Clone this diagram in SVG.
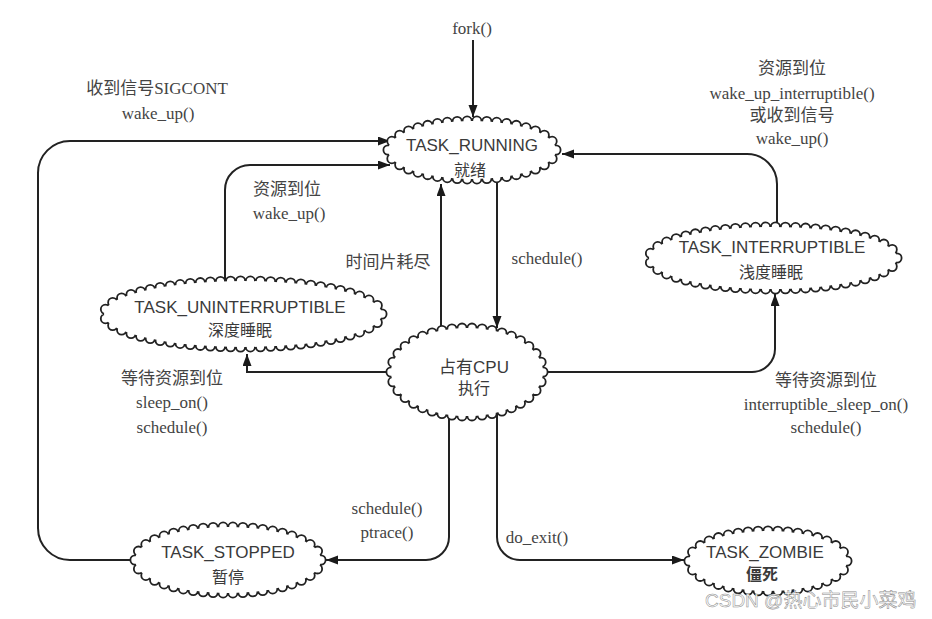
<svg xmlns="http://www.w3.org/2000/svg" width="932" height="619" viewBox="0 0 932 619">
<defs>
<marker id="ah" markerUnits="userSpaceOnUse" markerWidth="13" markerHeight="10" refX="12" refY="4.5" orient="auto">
<path d="M0,0 L12,4.5 L0,9 z" fill="#1a1a1a"/>
</marker>
<style>
.cb{fill:none;stroke:#222;stroke-width:11;stroke-linecap:round;stroke-dasharray:0 10}
.cw{fill:none;stroke:#fff;stroke-width:7.4;stroke-linecap:round;stroke-dasharray:0 10}
.cf{fill:#fff;stroke:none}
.ln{fill:none;stroke:#222;stroke-width:2}
.ar{marker-end:url(#ah)}
.lb{font-family:"Liberation Serif","Noto Sans CJK SC",serif;font-size:17px;fill:#444;text-anchor:middle}
.nd{font-family:"Liberation Sans","Noto Sans CJK SC",sans-serif;font-size:17px;fill:#3a3a3a;text-anchor:middle}
.zh{font-family:"Noto Sans CJK SC",sans-serif;font-size:16px;fill:#3a3a3a;text-anchor:middle}
</style>
</defs>
<rect width="932" height="619" fill="#fff"/>

<g id="connectors">
<path class="ln ar" d="M473,40 V117"/>
<path class="ln ar" d="M130,560 H70 A32,32 0 0 1 38,528 V173 A32,32 0 0 1 70,141 H390"/>
<path class="ln ar" d="M225,280 V190 A25,25 0 0 1 250,165 H390"/>
<path class="ln ar" d="M441,330 V184"/>
<path class="ln ar" d="M497,183 V328"/>
<path class="ln ar" d="M777,228 V184 A30,30 0 0 0 747,154 H562"/>
<path class="ln ar" d="M545,372 H752 A23,23 0 0 0 775,349 V294"/>
<path class="ln ar" d="M390,372 H247 V354"/>
<path class="ln ar" d="M449,415 V537 A23,23 0 0 1 426,560 H326"/>
<path class="ln ar" d="M497,415 V537 A23,23 0 0 0 520,560 H684"/>
</g>

<g id="labels">
<text class="lb" x="472" y="34">fork()</text>
<text class="lb" x="157" y="94">收到信号SIGCONT</text>
<text class="lb" x="158" y="119">wake_up()</text>
<text class="lb" x="287" y="195">资源到位</text>
<text class="lb" x="289" y="219">wake_up()</text>
<text class="lb" x="388" y="268">时间片耗尽</text>
<text class="lb" x="547" y="264">schedule()</text>
<text class="lb" x="792" y="74">资源到位</text>
<text class="lb" x="792" y="99">wake_up_interruptible()</text>
<text class="lb" x="792" y="121">或收到信号</text>
<text class="lb" x="792" y="144">wake_up()</text>
<text class="lb" x="172" y="384">等待资源到位</text>
<text class="lb" x="172" y="408">sleep_on()</text>
<text class="lb" x="172" y="433">schedule()</text>
<text class="lb" x="826" y="386">等待资源到位</text>
<text class="lb" x="826" y="410">interruptible_sleep_on()</text>
<text class="lb" x="826" y="433">schedule()</text>
<text class="lb" x="387" y="514">schedule()</text>
<text class="lb" x="387" y="538">ptrace()</text>
<text class="lb" x="537" y="543">do_exit()</text>
</g>

<g id="task-running">
<ellipse class="cb" cx="472" cy="150" rx="84" ry="29" pathLength="380"/>
<ellipse class="cw" cx="472" cy="150" rx="84" ry="29" pathLength="380"/>
<ellipse class="cf" cx="472" cy="150" rx="84" ry="29"/>
<text class="nd" x="472" y="151">TASK_RUNNING</text>
<text class="zh" x="470" y="176">就绪</text>
</g>

<g id="task-uninterruptible">
<ellipse class="cb" cx="243" cy="314" rx="139" ry="33" pathLength="590"/>
<ellipse class="cw" cx="243" cy="314" rx="139" ry="33" pathLength="590"/>
<ellipse class="cf" cx="243" cy="314" rx="139" ry="33"/>
<text class="nd" x="240" y="313">TASK_UNINTERRUPTIBLE</text>
<text class="zh" x="240" y="336">深度睡眠</text>
</g>

<g id="task-interruptible">
<ellipse class="cb" cx="773" cy="258" rx="124" ry="31" pathLength="530"/>
<ellipse class="cw" cx="773" cy="258" rx="124" ry="31" pathLength="530"/>
<ellipse class="cf" cx="773" cy="258" rx="124" ry="31"/>
<text class="nd" x="772" y="253">TASK_INTERRUPTIBLE</text>
<text class="zh" x="771" y="278">浅度睡眠</text>
</g>

<g id="cpu">
<ellipse class="cb" cx="467" cy="372" rx="76" ry="44" pathLength="380"/>
<ellipse class="cw" cx="467" cy="372" rx="76" ry="44" pathLength="380"/>
<ellipse class="cf" cx="467" cy="372" rx="76" ry="44"/>
<text class="nd" x="474" y="373">占有CPU</text>
<text class="zh" x="474" y="394">执行</text>
</g>

<g id="task-stopped">
<ellipse class="cb" cx="228" cy="560" rx="93" ry="33" pathLength="420"/>
<ellipse class="cw" cx="228" cy="560" rx="93" ry="33" pathLength="420"/>
<ellipse class="cf" cx="228" cy="560" rx="93" ry="33"/>
<text class="nd" x="228" y="558">TASK_STOPPED</text>
<text class="zh" x="228" y="583">暂停</text>
</g>

<g id="task-zombie">
<ellipse class="cb" cx="768" cy="561" rx="79" ry="30" pathLength="360"/>
<ellipse class="cw" cx="768" cy="561" rx="79" ry="30" pathLength="360"/>
<ellipse class="cf" cx="768" cy="561" rx="79" ry="30"/>
<text class="nd" x="765" y="558">TASK_ZOMBIE</text>
<text class="zh" x="762" y="580" font-weight="bold">僵死</text>
</g>

<text x="705" y="607" font-family="'Liberation Sans','Noto Sans CJK SC',sans-serif" font-size="19" fill="#ffffff" stroke="#8a8a8a" stroke-width="0.5">CSDN @热心市民小菜鸡</text>
</svg>
